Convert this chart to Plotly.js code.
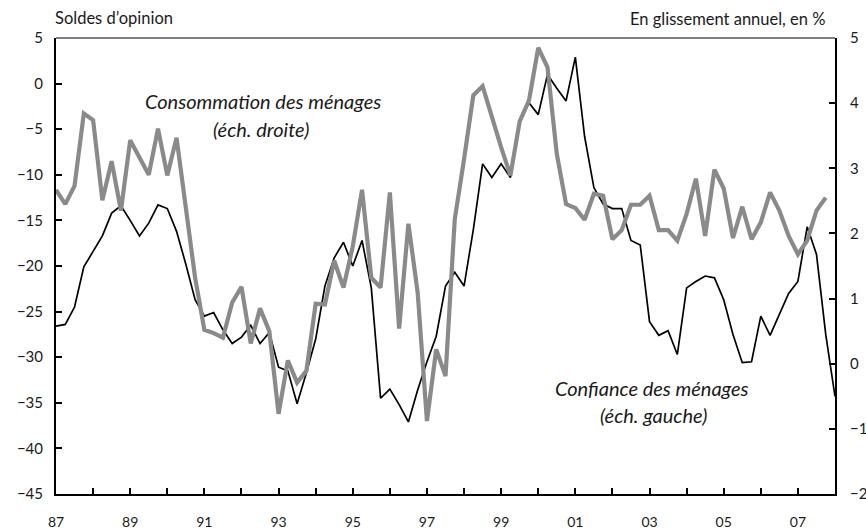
<!DOCTYPE html>
<html>
<head>
<meta charset="utf-8">
<script src="https://cdn.plot.ly/plotly-3.0.1.min.js"></script>
<style>
  html, body { margin: 0; padding: 0; background: #ffffff; }
  #chart { width: 866px; height: 532px; }
</style>
</head>
<body>
<div id="chart"></div>
<script>
// Quarterly series, starting 1987 Q1
const startYear = 1987;

// Confiance des ménages (soldes d'opinion, left scale)
const confiance = [
  -26.6, -26.4, -24.5, -20.1, -18.4, -16.7, -14.2, -13.4,
  -15.0, -16.7, -15.3, -13.3, -13.7, -16.2, -19.8, -23.7,
  -25.5, -25.1, -27.0, -28.5, -27.8, -26.5, -28.5, -27.3,
  -31.1, -31.5, -35.1, -31.7, -28.0, -22.2, -19.1, -17.4,
  -20.0, -17.2, -22.4, -34.5, -33.5, -35.2, -37.1, -33.6,
  -30.5, -27.7, -22.2, -20.7, -22.2, -16.0, -8.8, -10.3,
  -8.8, -10.3, -4.0, -2.1, -3.4, 1.0, -0.5, -1.9,
  2.9, -5.8, -11.4, -13.2, -13.7, -13.7, -17.2, -17.7,
  -26.1, -27.6, -27.1, -29.7, -22.4, -21.7, -21.1, -21.3,
  -23.7, -27.5, -30.6, -30.5, -25.5, -27.6, -25.3, -23.0,
  -21.7, -15.7, -18.7, -27.5, -34.3
];

// Consommation des ménages (glissement annuel en %, right scale)
const consommation = [
  2.67, 2.45, 2.73, 3.84, 3.74, 2.51, 3.11, 2.35,
  3.43, 3.17, 2.90, 3.61, 2.89, 3.47, 2.38, 1.32,
  0.52, 0.47, 0.40, 0.94, 1.18, 0.31, 0.85, 0.50,
  -0.77, 0.05, -0.29, -0.11, 0.92, 0.91, 1.58, 1.17,
  1.80, 2.67, 1.32, 1.17, 2.63, 0.54, 2.15, 1.09,
  -0.88, 0.22, -0.19, 2.22, 3.14, 4.12, 4.26, 3.78,
  3.32, 2.89, 3.72, 4.04, 4.85, 4.55, 3.22, 2.45,
  2.39, 2.21, 2.61, 2.58, 1.91, 2.05, 2.44, 2.44,
  2.58, 2.05, 2.05, 1.89, 2.30, 2.84, 1.96, 2.98,
  2.69, 1.93, 2.41, 1.91, 2.17, 2.63, 2.35, 1.96,
  1.68, 1.89, 2.35, 2.55
];

const tickYears = [1987,1988,1989,1990,1991,1992,1993,1994,1995,1996,1997,1998,1999,2000,2001,2002,2003,2004,2005,2006,2007,2008];
const tickLabels = ['87','','89','','91','','93','','95','','97','','99','','01','','03','','05','','07',''];

const leftTitle = "Soldes d’opinion";
const rightTitle = "En glissement annuel, en %";
const consLabel = ["Consommation des ménages", "(éch. droite)"];
const confLabel = ["Confiance des ménages", "(éch. gauche)"];

const xConf = confiance.map((v, i) => startYear + i / 4);
const xCons = consommation.map((v, i) => startYear + i / 4);

const FONT = 'Lato, "Open Sans", sans-serif';
const TXT = '#1a1a1a';

const traces = [
  {
    x: xCons, y: consommation, yaxis: 'y2', type: 'scatter', mode: 'lines',
    line: { color: '#8a8a8a', width: 4.2 }, hoverinfo: 'skip', showlegend: false
  },
  {
    x: xConf, y: confiance, yaxis: 'y', type: 'scatter', mode: 'lines',
    line: { color: '#000000', width: 1.7 }, hoverinfo: 'skip', showlegend: false
  }
];

const layout = {
  width: 866, height: 532,
  margin: { l: 56, r: 31, t: 38, b: 38 },
  paper_bgcolor: '#ffffff', plot_bgcolor: '#ffffff',
  font: { family: FONT, size: 14, color: TXT },
  showlegend: false,
  xaxis: {
    range: [1987, 2008], tickmode: 'array', tickvals: tickYears, ticktext: tickLabels,
    ticks: 'inside', ticklen: 6, tickwidth: 2, tickcolor: '#000',
    showline: true, linecolor: '#000', linewidth: 2,
    showgrid: false, zeroline: false, ticklabelstandoff: 14,
    tickfont: { family: FONT, size: 14, color: TXT }
  },
  yaxis: {
    range: [-45, 5], dtick: 5, tick0: 0,
    ticks: 'inside', ticklen: 6, tickwidth: 2, tickcolor: '#000',
    showline: true, linecolor: '#000', linewidth: 2,
    showgrid: false, zeroline: false, ticklabelstandoff: 8,
    tickfont: { family: FONT, size: 15, color: TXT }
  },
  yaxis2: {
    range: [-2, 5], dtick: 1, tick0: 0, overlaying: 'y', side: 'right',
    ticks: 'inside', ticklen: 6, tickwidth: 2, tickcolor: '#000',
    showline: true, linecolor: '#000', linewidth: 2,
    showgrid: false, zeroline: false, ticklabelstandoff: 10,
    tickfont: { family: FONT, size: 15, color: TXT }
  },
  shapes: [
    { type: 'line', xref: 'paper', yref: 'paper', x0: 0, x1: 1, y0: 1, y1: 1,
      line: { color: '#000', width: 1.2 } }
  ],
  annotations: [
    { text: leftTitle, xref: 'paper', yref: 'paper', x: -0.004, y: 1.0, yshift: 20,
      xanchor: 'left', yanchor: 'middle', showarrow: false,
      font: { family: FONT, size: 16.5, color: TXT } },
    { text: rightTitle, xref: 'paper', yref: 'paper', x: 0.99, y: 1.0, yshift: 19,
      xanchor: 'right', yanchor: 'middle', showarrow: false,
      font: { family: FONT, size: 16.5, color: TXT } },
    { text: '<i>' + consLabel[0] + '</i>', xref: 'x', yref: 'y', x: 1992.57, y: -1.9,
      xanchor: 'center', yanchor: 'middle', showarrow: false,
      font: { family: FONT, size: 20, color: TXT } },
    { text: '<i>' + consLabel[1] + '</i>', xref: 'x', yref: 'y', x: 1992.53, y: -5.0,
      xanchor: 'center', yanchor: 'middle', showarrow: false,
      font: { family: FONT, size: 20, color: TXT } },
    { text: '<i>' + confLabel[0] + '</i>', xref: 'x', yref: 'y', x: 2003.08, y: -33.4,
      xanchor: 'center', yanchor: 'middle', showarrow: false,
      font: { family: FONT, size: 20, color: TXT } },
    { text: '<i>' + confLabel[1] + '</i>', xref: 'x', yref: 'y', x: 2003.12, y: -36.3,
      xanchor: 'center', yanchor: 'middle', showarrow: false,
      font: { family: FONT, size: 20, color: TXT } }
  ]
};

Plotly.newPlot('chart', traces, layout, { staticPlot: true, displayModeBar: false });
</script>
</body>
</html>
